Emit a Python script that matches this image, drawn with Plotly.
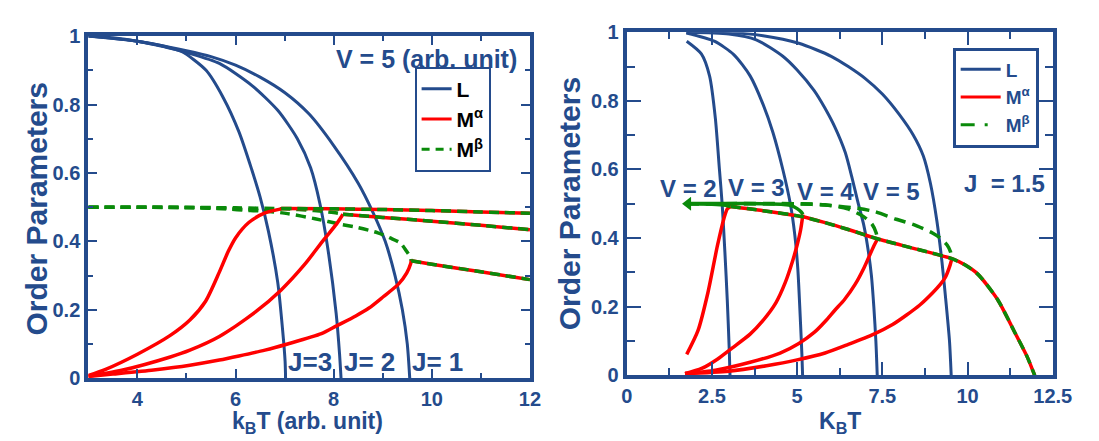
import plotly.graph_objects as go

BLUE = "#244b8c"
RED = "#ff0000"
GREEN = "#0a8a0a"
FONT = "Liberation Sans"

# ---------------- Left panel (V = 5) ----------------
L_J3_T = [3.0, 3.5, 4.0, 4.5, 4.9, 5.4, 5.75, 6.07, 6.33, 6.5, 6.67, 6.86, 6.96, 7.01, 7.02]
L_J3 = [1.0, 0.995, 0.985, 0.97, 0.955, 0.90, 0.82, 0.72, 0.61, 0.53, 0.43, 0.28, 0.14, 0.05, 0.0]
L_J2_T = [3.0, 4.0, 4.5, 5.0, 5.67, 6.33, 6.86, 7.26, 7.53, 7.72, 7.88, 8.05, 8.12, 8.15]
L_J2 = [1.0, 0.985, 0.972, 0.952, 0.92, 0.856, 0.783, 0.70, 0.615, 0.51, 0.38, 0.19, 0.07, 0.0]
L_J1_T = [3.0, 4.0, 5.0, 5.5, 6.0, 6.5, 7.0, 7.5, 8.0, 8.5, 8.8, 9.05, 9.25, 9.4, 9.5, 9.55]
L_J1 = [1.0, 0.985, 0.957, 0.94, 0.915, 0.88, 0.835, 0.772, 0.68, 0.57, 0.485, 0.40, 0.30, 0.20, 0.10, 0.0]

Ma_J3_T = [3.0, 3.34, 4.0, 4.67, 5.07, 5.39, 5.67, 5.85, 6.0, 6.27, 6.6, 6.93]
Ma_J3 = [0.008, 0.025, 0.07, 0.125, 0.17, 0.225, 0.31, 0.37, 0.41, 0.455, 0.483, 0.495]
Ma_J2_T = [3.0, 3.68, 4.67, 5.07, 5.67, 6.4, 6.93, 7.4, 7.8, 8.06, 8.19]
Ma_J2 = [0.006, 0.023, 0.062, 0.082, 0.122, 0.193, 0.258, 0.331, 0.405, 0.451, 0.479]
Ma_J1_T = [3.0, 3.5, 4.33, 5.07, 5.67, 6.07, 6.6, 7.06, 7.75, 8.06, 8.45, 8.72, 9.01, 9.32, 9.49, 9.57, 9.58]
Ma_J1 = [0.005, 0.012, 0.024, 0.038, 0.053, 0.065, 0.082, 0.10, 0.13, 0.153, 0.182, 0.205, 0.238, 0.275, 0.308, 0.335, 0.343]

Mb_J3_T = [3.0, 5.0, 5.8, 6.3, 6.6, 6.93]
Mb_J3 = [0.5, 0.499, 0.495, 0.49, 0.489, 0.495]
Mb_J2_T = [3.0, 6.0, 7.0, 7.6, 8.0, 8.19]
Mb_J2 = [0.5, 0.498, 0.495, 0.49, 0.484, 0.479]
Mb_J1_T = [3.0, 5.0, 6.0, 6.6, 7.06, 7.62, 8.17, 8.5, 8.9, 9.15, 9.36, 9.49, 9.56, 9.58]
Mb_J1 = [0.5, 0.499, 0.495, 0.489, 0.481, 0.466, 0.449, 0.44, 0.425, 0.41, 0.395, 0.37, 0.355, 0.343]

U_J3_T = [6.93, 8.0, 9.0, 10.0, 11.0, 12.0]
U_J3 = [0.496, 0.495, 0.493, 0.49, 0.486, 0.482]
U_J2_T = [8.19, 9.0, 10.0, 11.0, 12.0]
U_J2 = [0.479, 0.47, 0.459, 0.447, 0.434]
U_J1_T = [9.58, 10.0, 11.0, 12.0]
U_J1 = [0.343, 0.333, 0.311, 0.288]

# ---------------- Right panel (J = 1.5) ----------------
L_V2_T = [1.76, 2.19, 2.43, 2.6, 2.72, 2.8, 2.88, 2.95, 3.01, 3.03]
L_V2 = [0.974, 0.937, 0.873, 0.75, 0.6, 0.5, 0.36, 0.22, 0.07, 0.0]
L_V3_T = [1.75, 2.57, 3.14, 3.62, 4.0, 4.29, 4.58, 4.8, 4.93, 5.02, 5.1, 5.14, 5.16]
L_V3 = [0.998, 0.974, 0.935, 0.873, 0.79, 0.708, 0.6, 0.5, 0.41, 0.31, 0.15, 0.06, 0.0]
L_V4_T = [1.75, 3.0, 3.8, 4.58, 5.0, 5.5, 5.81, 6.1, 6.41, 6.6, 6.77, 6.95, 7.06, 7.18, 7.25, 7.31, 7.35]
L_V4 = [1.0, 0.995, 0.978, 0.93, 0.89, 0.83, 0.78, 0.725, 0.65, 0.58, 0.51, 0.44, 0.38, 0.29, 0.2, 0.1, 0.0]
L_V5_T = [1.75, 3.0, 4.0, 5.05, 6.0, 6.5, 7.0, 7.5, 8.0, 8.41, 8.7, 8.91, 9.1, 9.25, 9.38, 9.47, 9.52]
L_V5 = [1.0, 0.999, 0.99, 0.968, 0.93, 0.9, 0.865, 0.82, 0.76, 0.70, 0.64, 0.56, 0.45, 0.33, 0.2, 0.1, 0.0]

Ma_V2_T = [1.76, 2.09, 2.38, 2.66, 2.86, 2.95, 3.05]
Ma_V2 = [0.061, 0.13, 0.24, 0.377, 0.46, 0.485, 0.492]
Ma_V3_T = [1.71, 2.2, 2.66, 3.1, 3.62, 4.0, 4.38, 4.65, 4.86, 5.0, 5.1, 5.17]
Ma_V3 = [0.005, 0.02, 0.047, 0.08, 0.12, 0.16, 0.212, 0.27, 0.331, 0.38, 0.423, 0.469]
Ma_V4_T = [1.71, 2.6, 3.62, 4.5, 5.05, 5.5, 5.82, 6.1, 6.39, 6.7, 6.96, 7.25, 7.35]
Ma_V4 = [0.005, 0.015, 0.038, 0.065, 0.093, 0.125, 0.157, 0.189, 0.221, 0.265, 0.313, 0.377, 0.396]
Ma_V5_T = [1.71, 3.0, 4.1, 5.0, 5.82, 6.5, 7.25, 7.8, 8.2, 8.6, 8.97, 9.2, 9.35, 9.49, 9.54]
Ma_V5 = [0.005, 0.012, 0.028, 0.045, 0.065, 0.09, 0.12, 0.148, 0.175, 0.205, 0.24, 0.265, 0.286, 0.322, 0.34]

Mb_V2_T = [1.76, 2.5, 2.9, 3.05]
Mb_V2 = [0.5, 0.499, 0.496, 0.492]
Mb_V3_T = [1.76, 3.0, 4.0, 4.6, 4.85, 5.0, 5.12, 5.17]
Mb_V3 = [0.501, 0.501, 0.5, 0.498, 0.494, 0.486, 0.476, 0.469]
Mb_V4_T = [1.76, 4.0, 5.15, 5.82, 6.48, 6.96, 7.2, 7.32, 7.35]
Mb_V4 = [0.5, 0.5, 0.5, 0.497, 0.485, 0.462, 0.44, 0.415, 0.396]
Mb_V5_T = [1.76, 5.0, 6.0, 6.68, 7.25, 7.91, 8.4, 8.97, 9.2, 9.4, 9.5, 9.54]
Mb_V5 = [0.5, 0.5, 0.495, 0.488, 0.478, 0.455, 0.44, 0.415, 0.40, 0.38, 0.36, 0.34]

C_T = [3.05, 4.0, 5.17, 5.82, 6.5, 7.35, 8.5, 9.54, 9.92, 10.3, 10.88, 11.36, 11.74, 11.93, 11.97]
C = [0.492, 0.48, 0.462, 0.445, 0.425, 0.398, 0.368, 0.34, 0.322, 0.295, 0.221, 0.13, 0.056, 0.01, 0.0]

ARROW_T = [1.8]
ARROW_Y = [0.5]

LEFT_XTICKS = [4, 6, 8, 10, 12]
RIGHT_XTICKS = [0, 2.5, 5, 7.5, 10, 12.5]
RIGHT_XTICKTEXT = ["0", "2.5", "5", "7.5", "10", "12.5"]
Y_TICKS = [0, 0.2, 0.4, 0.6, 0.8, 1.0]
Y_TICKTEXT = ["0", "0.2", "0.4", "0.6", "0.8", "1"]

fig = go.Figure()


def line(x, y, color, width, dash="solid", xa="x", ya="y"):
    fig.add_trace(go.Scatter(x=x, y=y, mode="lines", xaxis=xa, yaxis=ya,
                             line=dict(color=color, width=width, dash=dash, shape="spline", smoothing=0.7),
                             showlegend=False, hoverinfo="skip"))


GDASH = "10px,6px"
# left
for tx, ty in [(L_J3_T, L_J3), (L_J2_T, L_J2), (L_J1_T, L_J1)]:
    line(tx, ty, BLUE, 3)
for tx, ty in [(Mb_J3_T, Mb_J3), (Mb_J2_T, Mb_J2), (Mb_J1_T, Mb_J1)]:
    line(tx, ty, GREEN, 3.5, GDASH)
for tx, ty in [(Ma_J3_T, Ma_J3), (Ma_J2_T, Ma_J2), (Ma_J1_T, Ma_J1)]:
    line(tx, ty, RED, 3.5)
for tx, ty in [(U_J3_T, U_J3), (U_J2_T, U_J2), (U_J1_T, U_J1)]:
    line(tx, ty, RED, 3.5)
    line(tx, ty, GREEN, 3.5, GDASH)

# right
for tx, ty in [(L_V2_T, L_V2), (L_V3_T, L_V3), (L_V4_T, L_V4), (L_V5_T, L_V5)]:
    line(tx, ty, BLUE, 3, xa="x2", ya="y2")
for tx, ty in [(Ma_V2_T, Ma_V2), (Ma_V3_T, Ma_V3), (Ma_V4_T, Ma_V4), (Ma_V5_T, Ma_V5)]:
    line(tx, ty, RED, 3.5, xa="x2", ya="y2")
line(Mb_V4_T, Mb_V4, GREEN, 3.5, "12px,7px", "x2", "y2")
line(Mb_V5_T, Mb_V5, GREEN, 3.5, "12px,7px", "x2", "y2")
line(Mb_V2_T, Mb_V2, GREEN, 3.5, xa="x2", ya="y2")
line(Mb_V3_T, Mb_V3, GREEN, 3.5, xa="x2", ya="y2")
line(C_T, C, RED, 3.5, xa="x2", ya="y2")
line(C_T, C, GREEN, 3.5, GDASH, "x2", "y2")
fig.add_trace(go.Scatter(x=ARROW_T, y=ARROW_Y, mode="markers", xaxis="x2", yaxis="y2",
                         marker=dict(symbol="triangle-left", size=12, color=GREEN),
                         showlegend=False, hoverinfo="skip"))

# legend entries
NAMES = ["L", "M<sup>α</sup>", "M<sup>β</sup>"]
for nm, col, dsh in zip(NAMES, [BLUE, RED, GREEN], ["solid", "solid", "8px,6px"]):
    fig.add_trace(go.Scatter(x=[None], y=[None], mode="lines", name=nm,
                             line=dict(color=col, width=3, dash=dsh), legend="legend"))
for nm, col, dsh in zip(NAMES, [BLUE, RED, GREEN], ["solid", "solid", "14px,10px,3px,20px"]):
    fig.add_trace(go.Scatter(x=[None], y=[None], mode="lines", name=nm, xaxis="x2", yaxis="y2",
                             line=dict(color=col, width=3, dash=dsh), legend="legend2"))

tickfont = dict(family=FONT, size=20, color=BLUE, weight="bold")
common_axis = dict(showline=True, linecolor=BLUE, linewidth=4, mirror="allticks",
                   ticks="inside", tickcolor=BLUE, tickwidth=2, showgrid=False,
                   zeroline=False, tickfont=tickfont)

fig.update_layout(
    width=1099, height=441, margin=dict(l=0, r=0, t=0, b=0),
    paper_bgcolor="white", plot_bgcolor="white",
    xaxis=dict(domain=[0.0692, 0.4804], range=[3, 12], tickvals=LEFT_XTICKS, ticklen=9,
               minor=dict(dtick=1, tick0=3, ticks="inside", ticklen=5, tickcolor=BLUE, tickwidth=2),
               anchor="y", **common_axis),
    yaxis=dict(domain=[0.1428, 0.9592], range=[0, 1], tickvals=Y_TICKS, ticktext=Y_TICKTEXT, ticklen=9,
               minor=dict(dtick=0.1, tick0=0, ticks="inside", ticklen=5, tickcolor=BLUE, tickwidth=2),
               anchor="x", **common_axis),
    xaxis2=dict(domain=[0.5705, 0.9672], range=[0, 12.5], tickvals=RIGHT_XTICKS, ticktext=RIGHT_XTICKTEXT,
                ticklen=13, minor=dict(dtick=1.25, tick0=0, ticks="inside", ticklen=7, tickcolor=BLUE, tickwidth=2),
                anchor="y2", **common_axis),
    yaxis2=dict(domain=[0.1496, 0.9683], range=[0, 1], tickvals=Y_TICKS, ticktext=Y_TICKTEXT, ticklen=14,
                minor=dict(dtick=0.1, tick0=0, ticks="inside", ticklen=8, tickcolor=BLUE, tickwidth=2),
                anchor="x2", **common_axis),
    legend=dict(x=0.373, y=1 - 50 / 441, xanchor="left", yanchor="top", bgcolor="white",
                bordercolor=BLUE, borderwidth=2, itemwidth=30,
                font=dict(family=FONT, size=21, color="black", weight="bold")),
    legend2=dict(x=0.874, y=1 - 30 / 441, xanchor="left", yanchor="top", bgcolor="white",
                 bordercolor=BLUE, borderwidth=3, itemwidth=40,
                 font=dict(family=FONT, size=19, color=BLUE, weight="bold")),
)

afont = lambda s: dict(family=FONT, size=s, color=BLUE, weight="bold")
ann = [
    dict(text="Order Parameters", x=23, y=200, textangle=-90, font=afont(30)),
    dict(text="V = 5 (arb. unit)", x=422, y=42, font=afont(25)),
    dict(text="J=3", x=303, y=361, font=afont(26)),
    dict(text="J= 2", x=364, y=361, font=afont(26)),
    dict(text="J= 1", x=433, y=361, font=afont(26)),
    dict(text="Order Parameters", x=568, y=195, textangle=-90, font=afont(30)),
    dict(text="V = 2", x=690, y=178, font=afont(24)),
    dict(text="V = 3", x=760, y=177, font=afont(24)),
    dict(text="V = 4", x=830, y=182, font=afont(24)),
    dict(text="V = 5", x=898, y=182, font=afont(24)),
    dict(text="J\u00a0\u00a0= 1.5", x=1014, y=173, font=afont(24)),
]
for a in ann:
    fig.add_annotation(text=a["text"], x=a["x"] / 1099, y=1 - a["y"] / 441, xref="paper", yref="paper",
                       showarrow=False, textangle=a.get("textangle", 0), font=a["font"],
                       xanchor="center", yanchor="middle")

# x-axis titles anchored to the bottom edge of the page
for txt, xc in [("k<sub>B</sub>T (arb. unit)", 300), ("K<sub>B</sub>T", 845)]:
    fig.add_annotation(text=txt, x=xc / 1099, y=0, xref="paper", yref="paper", showarrow=False,
                       font=afont(23), xanchor="center", yanchor="bottom", yshift=-1)

fig.write_html("out.html")
